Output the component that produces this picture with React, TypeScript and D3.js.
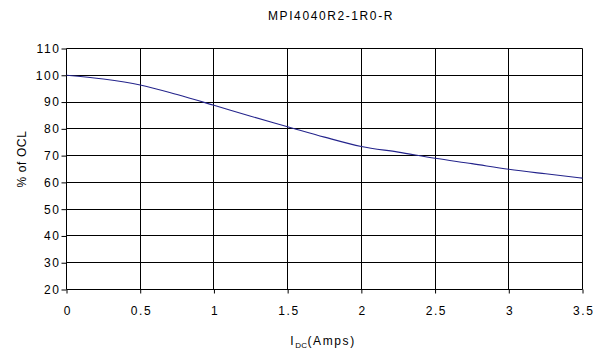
import { useEffect, useRef } from 'react'
import * as d3 from 'd3'

const chartTitle = 'MPI4040R2-1R0-R'
const currentAmps = [0, 0.25, 0.5, 0.75, 1, 1.25, 1.5, 1.75, 2, 2.25, 2.5, 2.75, 3, 3.25, 3.5]
const percentOcl = [100, 98.6, 96.4, 92.8, 88.8, 84.7, 80.8, 76.9, 73.4, 71.3, 69.0, 67.0, 64.9, 63.2, 61.6]
const xTicks = [0, 0.5, 1, 1.5, 2, 2.5, 3, 3.5]
const yTicks = [20, 30, 40, 50, 60, 70, 80, 90, 100, 110]

export default function App() {
  const svgRef = useRef<SVGSVGElement>(null)

  useEffect(() => {
    if (!svgRef.current) return
    const svg = d3.select(svgRef.current)
    svg.selectAll('*').remove()

    const width = 606
    const height = 354
    const margin = { top: 48.5, right: 23.5, bottom: 64.5, left: 66.5 }
    const innerWidth = width - margin.left - margin.right
    const innerHeight = height - margin.top - margin.bottom
    const font = '"Liberation Sans", Arial, sans-serif'
    const spacing = '1.6px'

    svg.attr('width', width).attr('height', height)

    const g = svg.append('g')
      .attr('transform', `translate(${margin.left},${margin.top})`)

    const x = d3.scaleLinear().domain([0, 3.5]).range([0, innerWidth])
    const y = d3.scaleLinear().domain([20, 110]).range([innerHeight, 0])

    // grid
    g.append('g')
      .selectAll('line')
      .data(yTicks)
      .join('line')
      .attr('x1', 0)
      .attr('x2', innerWidth)
      .attr('y1', d => Math.round(y(d)))
      .attr('y2', d => Math.round(y(d)))
      .attr('stroke', '#000')
      .attr('stroke-width', 1)

    g.append('g')
      .selectAll('line')
      .data(xTicks)
      .join('line')
      .attr('x1', d => Math.round(x(d)))
      .attr('x2', d => Math.round(x(d)))
      .attr('y1', 0)
      .attr('y2', innerHeight)
      .attr('stroke', '#000')
      .attr('stroke-width', 1)

    // axes
    const xAxis = g.append('g')
      .attr('transform', `translate(0,${innerHeight})`)
      .call(d3.axisBottom(x).tickValues(xTicks).tickSize(4).tickPadding(13).tickFormat(d => String(d)))
    const yAxis = g.append('g')
      .call(d3.axisLeft(y).tickValues(yTicks).tickSize(5).tickPadding(1).tickFormat(d => String(d)))

    for (const ax of [xAxis, yAxis]) {
      ax.select('.domain').remove()
      ax.selectAll('line').attr('stroke', '#000')
      ax.selectAll('text')
        .attr('fill', '#000')
        .style('font-family', font)
        .style('font-size', '12px')
        .style('letter-spacing', spacing)
    }
    xAxis.selectAll('text').attr('dx', '0.8')

    // curve
    const line = d3.line<number>()
      .x((_, i) => x(currentAmps[i]))
      .y(d => y(d))
      .curve(d3.curveMonotoneX)

    g.append('path')
      .datum(percentOcl)
      .attr('d', line)
      .attr('fill', 'none')
      .attr('stroke', '#24248c')
      .attr('stroke-width', 1.1)

    // title
    svg.append('text')
      .attr('x', 331)
      .attr('y', 20)
      .attr('text-anchor', 'middle')
      .style('font-family', font)
      .style('font-size', '12px')
      .style('letter-spacing', spacing)
      .text(chartTitle)

    // x label
    const xl = svg.append('text')
      .attr('x', 323)
      .attr('y', 345)
      .attr('text-anchor', 'middle')
      .style('font-family', font)
      .style('font-size', '12px')
      .style('letter-spacing', spacing)
    xl.append('tspan').text('I')
    xl.append('tspan').attr('dy', 3).style('font-size', '8px').style('letter-spacing', '0.4px').text('DC')
    xl.append('tspan').attr('dy', -3).text('(Amps)')

    // y label
    svg.append('text')
      .attr('transform', `translate(26,${159}) rotate(-90)`)
      .attr('text-anchor', 'middle')
      .style('font-family', font)
      .style('font-size', '12px')
      .style('letter-spacing', '0.6px')
      .text('% of OCL')
  }, [])

  return (
    <svg
      ref={svgRef}
      style={{ position: 'absolute', left: 0, top: 0, background: '#fff' }}
    />
  )
}
